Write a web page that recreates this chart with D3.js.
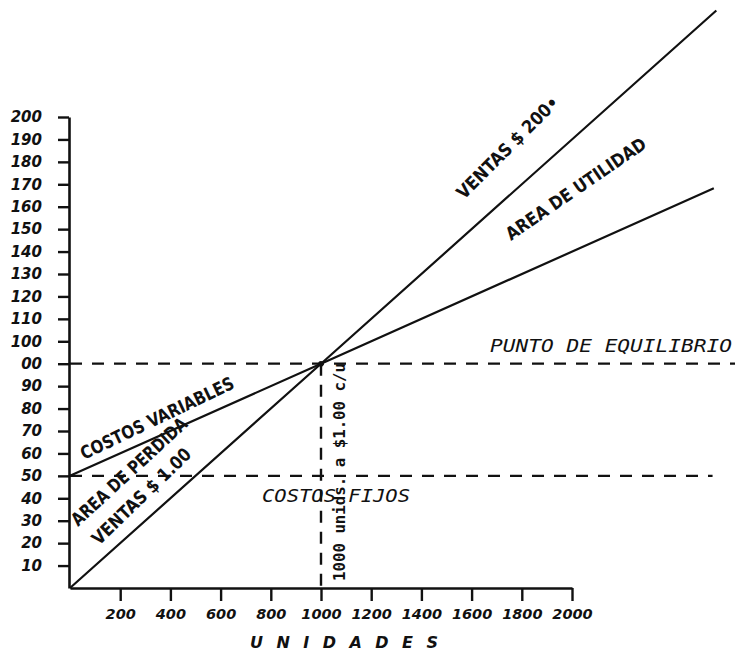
<!DOCTYPE html>
<html>
<head>
<meta charset="utf-8">
<script src="https://cdn.jsdelivr.net/npm/d3@7"></script>
<style>
  html, body { margin: 0; padding: 0; background: #fff; }
  svg { display: block; }
</style>
</head>
<body>
<svg id="chart" width="735" height="651"></svg>
<script>
// ---- data ----
const unidadesTicks = [200, 400, 600, 800, 1000, 1200, 1400, 1600, 1800, 2000];
const yTickValues = [10, 20, 30, 40, 50, 60, 70, 80, 90, 100, 110, 120, 130, 140, 150, 160, 170, 180, 190, 200, 210];
const yTickLabels = ["10", "20", "30", "40", "50", "60", "70", "80", "90", "00", "100", "110", "120", "130", "140", "150", "160", "170", "180", "190", "200"];
const ventasU = [0, 1000, 2575];
const ventasV = [0, 100, 257.5];
const costosU = [0, 1000, 2565];
const costosV = [50, 100, 178.2];
const costosFijos = 50;
const equilibrioU = 1000;
const equilibrioV = 100;
const equilibrioLineEndU = 2660;
const fijosLineEndU = 2560;

// ---- scales ----
const svg = d3.select("#chart");
const x = d3.scaleLinear().domain([0, 2000]).range([70, 572]);
const y = d3.scaleLinear().domain([0, 210]).range([588, 117]);

const ink = "#111";
const numFont = "'DejaVu Sans', sans-serif";
const lblFont = "'DejaVu Sans Condensed', 'DejaVu Sans', sans-serif";
const monoFont = "'DejaVu Sans Mono', monospace";

// ---- axes ----
const xAxis = d3.axisBottom(x).tickValues(unidadesTicks).tickSize(13).tickSizeOuter(0).tickPadding(8).tickFormat(d3.format("d"));
const gx = svg.append("g").attr("transform", `translate(0,${y(0)})`).call(xAxis);
gx.select(".domain").attr("stroke", ink).attr("stroke-width", 2.6);
gx.selectAll(".tick line").attr("stroke", ink).attr("stroke-width", 2.4);
gx.selectAll(".tick text").attr("fill", ink).attr("font-family", numFont)
  .attr("font-size", 14.5).attr("font-weight", "bold").attr("font-style", "italic");

const yAxis = d3.axisLeft(y).tickValues(yTickValues).tickSize(11).tickSizeOuter(0).tickPadding(16)
  .tickFormat((d, i) => yTickLabels[i]);
const gy = svg.append("g").attr("transform", `translate(${x(0) - 1},0)`).call(yAxis);
gy.select(".domain").attr("stroke", ink).attr("stroke-width", 2.6);
gy.selectAll(".tick line").attr("stroke", ink).attr("stroke-width", 2.4);
gy.selectAll(".tick text").attr("fill", ink).attr("font-family", numFont)
  .attr("font-size", 15).attr("font-weight", "bold").attr("font-style", "italic");

// ---- dashed reference lines ----
const dash = "12,10";
svg.append("line")
  .attr("x1", x(0)).attr("x2", x(equilibrioLineEndU))
  .attr("y1", y(equilibrioV)).attr("y2", y(equilibrioV))
  .attr("stroke", ink).attr("stroke-width", 2.2).attr("stroke-dasharray", dash);
svg.append("line")
  .attr("x1", x(0)).attr("x2", x(fijosLineEndU))
  .attr("y1", y(costosFijos)).attr("y2", y(costosFijos))
  .attr("stroke", ink).attr("stroke-width", 2.2).attr("stroke-dasharray", dash);
svg.append("line")
  .attr("x1", x(equilibrioU)).attr("x2", x(equilibrioU))
  .attr("y1", y(equilibrioV)).attr("y2", y(0))
  .attr("stroke", ink).attr("stroke-width", 2.4).attr("stroke-dasharray", "12,9");

// ---- lines ----
const line = d3.line().x(d => x(d[0])).y(d => y(d[1]));
svg.append("path").datum(ventasU.map((u, i) => [u, ventasV[i]]))
  .attr("d", line).attr("fill", "none").attr("stroke", ink).attr("stroke-width", 2.2);
svg.append("path").datum(costosU.map((u, i) => [u, costosV[i]]))
  .attr("d", line).attr("fill", "none").attr("stroke", ink).attr("stroke-width", 2.2);
svg.append("circle").attr("cx", x(equilibrioU)).attr("cy", y(equilibrioV)).attr("r", 2.8).attr("fill", ink);

// ---- rotated labels ----
const rotLabels = [
  { t: "COSTOS VARIABLES", x: 84, y: 460, a: -25.5, len: 168 },
  { t: "AREA DE PERDIDA", x: 78, y: 527, a: -42.5, len: 150 },
  { t: "VENTAS $ 1.00", x: 99, y: 546, a: -44, len: 130 },
  { t: "VENTAS $ 200\u2022", x: 464, y: 200, a: -45, len: 136 },
  { t: "AREA DE UTILIDAD", x: 511, y: 241, a: -34.5, len: 166 }
];
svg.selectAll("text.rot").data(rotLabels).enter().append("text")
  .attr("class", "rot")
  .attr("transform", d => `translate(${d.x},${d.y}) rotate(${d.a})`)
  .attr("textLength", d => d.len).attr("lengthAdjust", "spacingAndGlyphs")
  .attr("font-family", lblFont).attr("font-weight", "bold").attr("font-size", 18)
  .attr("fill", ink).text(d => d.t);

// ---- flat labels ----
svg.append("text").attr("x", 490).attr("y", 352)
  .attr("textLength", 242).attr("lengthAdjust", "spacingAndGlyphs")
  .attr("font-family", monoFont).attr("font-style", "italic").attr("font-size", 18)
  .attr("fill", ink).text("PUNTO DE EQUILIBRIO");
svg.append("text").attr("x", 262).attr("y", 502)
  .attr("textLength", 148).attr("lengthAdjust", "spacingAndGlyphs")
  .attr("font-family", monoFont).attr("font-style", "italic").attr("font-size", 18)
  .attr("fill", ink).text("COSTOS FIJOS");
svg.append("text").attr("transform", `translate(345,581) rotate(-90)`)
  .attr("textLength", 218).attr("lengthAdjust", "spacingAndGlyphs")
  .attr("font-family", monoFont).attr("font-weight", "bold").attr("font-size", 15)
  .attr("fill", ink).text("1000 unids. a $1.00 c/u");
svg.append("text").attr("x", 250).attr("y", 648)
  .attr("textLength", 188).attr("lengthAdjust", "spacing")
  .attr("font-family", numFont).attr("font-weight", "bold").attr("font-style", "italic").attr("font-size", 16)
  .attr("fill", ink).text("UNIDADES");
</script>
</body>
</html>
